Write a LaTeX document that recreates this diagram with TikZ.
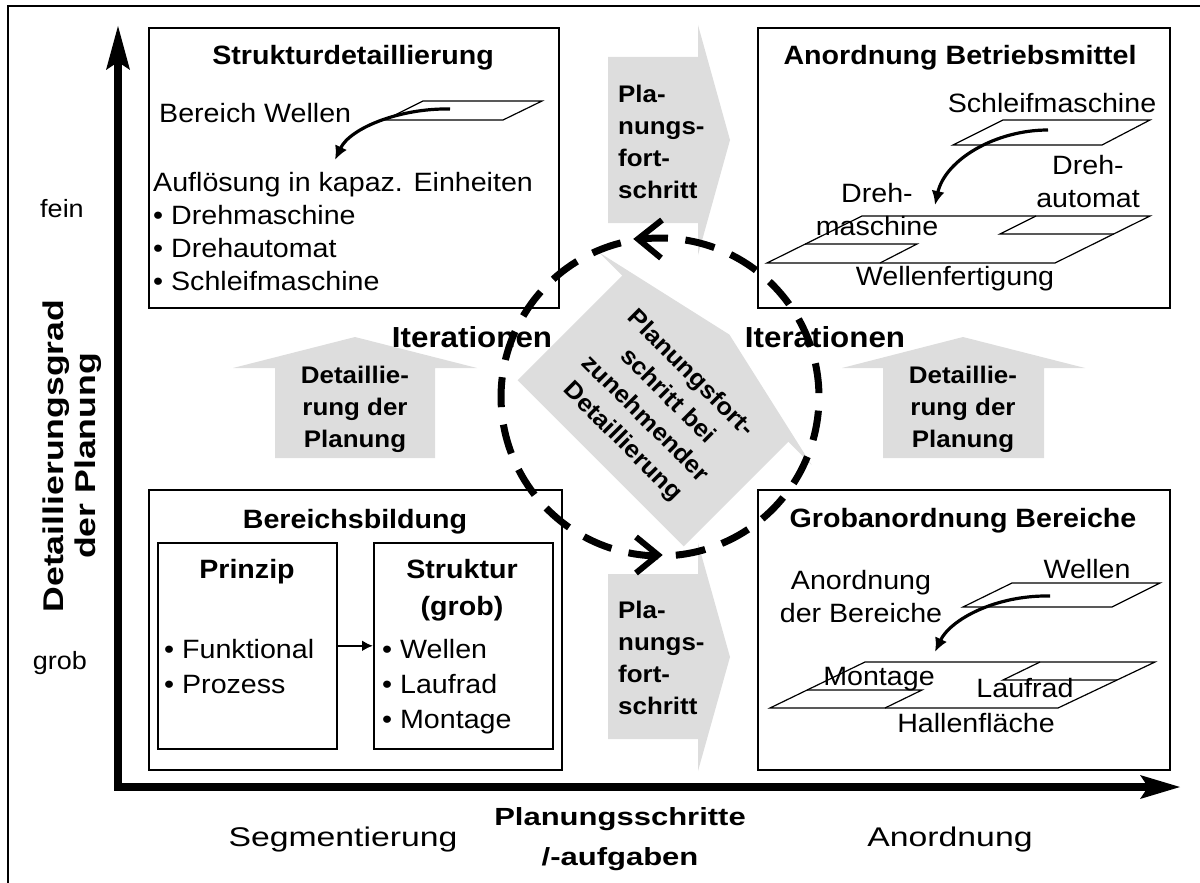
\documentclass[tikz,border=0pt]{standalone}
\usepackage{fontspec}
\setmainfont{Liberation Sans}
\newfontfamily\boxfont[FakeStretch=1.08]{Liberation Sans}
\newfontfamily\axfont[FakeStretch=1.25]{Liberation Sans}
\usetikzlibrary{arrows.meta}
\definecolor{lg}{HTML}{DDDDDD}
\begin{document}
\begin{tikzpicture}[x=1pt,y=-1pt,
  box/.style={draw,line width=2pt,inner sep=0pt},
  ibox/.style={draw,line width=1.6pt,inner sep=0pt},
  plane/.style={draw,line width=1.2pt},
  curv/.style={line width=3.2pt,-{Latex[length=14pt,width=13pt]}},
  ttl/.style={font=\boxfont\bfseries\fontsize{26.5}{33}\selectfont,inner sep=0pt},
  ttlb/.style={font=\boxfont\bfseries\fontsize{26.5}{37}\selectfont,inner sep=0pt},
  txt/.style={font=\boxfont\fontsize{26.5}{33}\selectfont,inner sep=0pt},
  txtb/.style={font=\boxfont\fontsize{26.5}{35}\selectfont,inner sep=0pt},
  gtxt/.style={font=\boxfont\bfseries\fontsize{24}{32}\selectfont,inner sep=0pt},
  itx/.style={font=\boxfont\bfseries\fontsize{29}{30}\selectfont,inner sep=0pt},
  axn/.style={font=\axfont\fontsize{27}{28}\selectfont,inner sep=0pt},
  axb/.style={font=\axfont\bfseries\fontsize{24.8}{40}\selectfont,inner sep=0pt},
  axr/.style={font=\axfont\bfseries\fontsize{28.5}{32}\selectfont,inner sep=0pt},
  lvl/.style={font=\boxfont\fontsize{25}{28}\selectfont,inner sep=0pt},
  ring/.style={line width=7pt,dash pattern=on 30pt off 17.57pt,dash phase=0pt},
  chev/.style={line width=6pt,line join=miter}
]
\useasboundingbox (0,0) rectangle (1200,883);
% outer frame
\draw[line width=1.8pt] (8,900) -- (8,6) -- (1220,6);

% grey block arrows
\fill[lg] (608,57) -- (698,57) -- (698,25) -- (730,140) -- (698,255) -- (698,223) -- (608,223) -- cycle;
\fill[lg] (608,574) -- (698,574) -- (698,543) -- (730,657) -- (698,771) -- (698,739) -- (608,739) -- cycle;
\fill[lg] (275,458) -- (275,368) -- (233,368) -- (355,337) -- (477,368) -- (435,368) -- (435,458) -- cycle;
\fill[lg] (883,458) -- (883,368) -- (842,368) -- (963,337) -- (1085,368) -- (1044,368) -- (1044,458) -- cycle;
\fill[lg] (517.6,380.2) -- (622.2,275.6) -- (598.9,252.3) -- (729.4,334.6) -- (811.7,465.1) -- (788.4,441.8) -- (683.8,546.4) -- cycle;

% axes
\fill (114,791) rectangle (122,60);
\fill (118,26) -- (130,70) -- (118,62) -- (106,70) -- cycle;
\fill (114,783) rectangle (1150,791);
\fill (1180,787) -- (1140,775) -- (1148,787) -- (1140,799) -- cycle;

% boxes
\node[box,minimum width=410pt,minimum height=280pt,anchor=north west] (tl) at (148,27) {};
\node[box,minimum width=412pt,minimum height=280pt,anchor=north west] (tr) at (757,27) {};
\node[box,minimum width=413pt,minimum height=280pt,anchor=north west] (bl) at (148,489) {};
\node[box,minimum width=412pt,minimum height=280pt,anchor=north west] (br) at (757,489) {};
\node[ibox,minimum width=179pt,minimum height=206pt,anchor=north west] (pz) at (157,542) {};
\node[ibox,minimum width=179pt,minimum height=206pt,anchor=north west] (st) at (373,542) {};
\draw[line width=2.5pt,-{Latex[length=11pt,width=11pt]}] (pz.east) -- (st.west);

% top-left content
\node[ttl,anchor=base] (tlh) at (353,65) {Strukturdetaillierung};
\node[txt,anchor=base west] (tlw) at (159,122) {Bereich Wellen};
\node[txt,anchor=base west,align=left] (tll) at (153,290) {Auflösung in kapaz. Einheiten\\• Drehmaschine\\• Drehautomat\\• Schleifmaschine};
\draw[plane] (423,101) -- (542,101) -- (503,120) -- (385,120) -- cycle;
\coordinate (c1s) at (450,109);
\coordinate (c1e) at (335,160);
\draw[curv] (c1s) .. controls (400,108) and (350,128) .. (c1e);

% top-right content
\node[ttl,anchor=base] (trh) at (960,65) {Anordnung Betriebsmittel};
\draw[plane] (1003,120) -- (1150,120) -- (1102,145) -- (953,145) -- cycle;
\draw[plane] (862,216) -- (1150,216) -- (1055,263) -- (767,263) -- cycle;
\draw[plane] (805,244) -- (917,244) -- (880,263);
\draw[plane] (1036,216) -- (1000,234) -- (1114,234);
\node[txt,anchor=base] (trs) at (1052,113) {Schleifmaschine};
\node[txt,anchor=base,align=center] (tra) at (1088,207) {Dreh-\\automat};
\node[txt,anchor=base,align=center] (trm) at (877,235) {Dreh-\\maschine};
\node[txt,anchor=base] (trw) at (955,285) {Wellenfertigung};
\coordinate (c2s) at (1048,130);
\coordinate (c2e) at (935,205);
\draw[curv] (c2s) .. controls (995,130) and (945,160) .. (c2e);

% bottom-right content
\node[ttl,anchor=base] (brh) at (963,527) {Grobanordnung Bereiche};
\draw[plane] (1012,583) -- (1160,583) -- (1112,607) -- (963,607) -- cycle;
\draw[plane] (865,662) -- (1155,662) -- (1058,708) -- (770,708) -- cycle;
\draw[plane] (807,690) -- (922,690) -- (885,708);
\draw[plane] (1040,662) -- (1003,680) -- (1117,680);
\node[txt,anchor=base] (brw) at (1087,578) {Wellen};
\node[txt,anchor=base,align=center] (bra) at (861,622) {Anordnung\\der Bereiche};
\node[txt,anchor=base] (brm) at (879,685) {Montage};
\node[txt,anchor=base] (brl) at (1025,697) {Laufrad};
\node[txt,anchor=base] (brf) at (976,732) {Hallenfläche};
\coordinate (c3s) at (1050,596);
\coordinate (c3e) at (935,652);
\draw[curv] (c3s) .. controls (995,595) and (950,620) .. (c3e);

% bottom-left content
\node[ttl,anchor=base] (blh) at (355,528) {Bereichsbildung};
\node[ttl,anchor=base] (pzh) at (247,578) {Prinzip};
\node[ttlb,anchor=base,align=center] (sth) at (462,615) {Struktur\\(grob)};
\node[txtb,anchor=base west,align=left] (pzl) at (164,693) {• Funktional\\• Prozess};
\node[txtb,anchor=base west,align=left] (stl) at (382,728) {• Wellen\\• Laufrad\\• Montage};

% grey arrow labels
\node[gtxt,anchor=base west,align=left] (pf1) at (618,198) {Pla-\\nungs-\\fort-\\schritt};
\node[gtxt,anchor=base west,align=left] (pf2) at (618,714) {Pla-\\nungs-\\fort-\\schritt};
\node[gtxt,anchor=base,align=center] (dp1) at (355,447) {Detaillie-\\rung der\\Planung};
\node[gtxt,anchor=base,align=center] (dp2) at (963,447) {Detaillie-\\rung der\\Planung};
\node[gtxt,rotate=-45,align=center] (ctr) at (656,408) {Planungsfort-\\schritt bei\\zunehmender\\Detaillierung};

% iterations
\node[itx,anchor=base] (it1) at (472,347) {Iterationen};
\node[itx,anchor=base] (it2) at (825,347) {Iterationen};

% axis labels
\node[lvl,anchor=base] (fein) at (62,217) {fein};
\node[lvl,anchor=base] (grob) at (60,669) {grob};
\node[axr,rotate=90,align=center] (ylab) at (72,456) {Detaillierungsgrad\\der Planung};
\node[axn,anchor=base] (seg) at (343,846) {Segmentierung};
\node[axn,anchor=base] (anr) at (950,846) {Anordnung};
\node[axb,anchor=base,align=center] (xlab) at (620,865) {Planungsschritte\\/-aufgaben};

% dashed iteration circle (starts at the upper arrow tip, runs clockwise on the page)
\coordinate (cc) at (660,397);
\draw[ring] plot[domain=262.05:622.05,samples=181] ({660+159*cos(\x)},{397+159*sin(\x)});
\draw[chev] (662,220) -- (638,239) -- (661,258);
\draw[chev] (636,537) -- (658,555) -- (636,573);
\end{tikzpicture}
\end{document}
